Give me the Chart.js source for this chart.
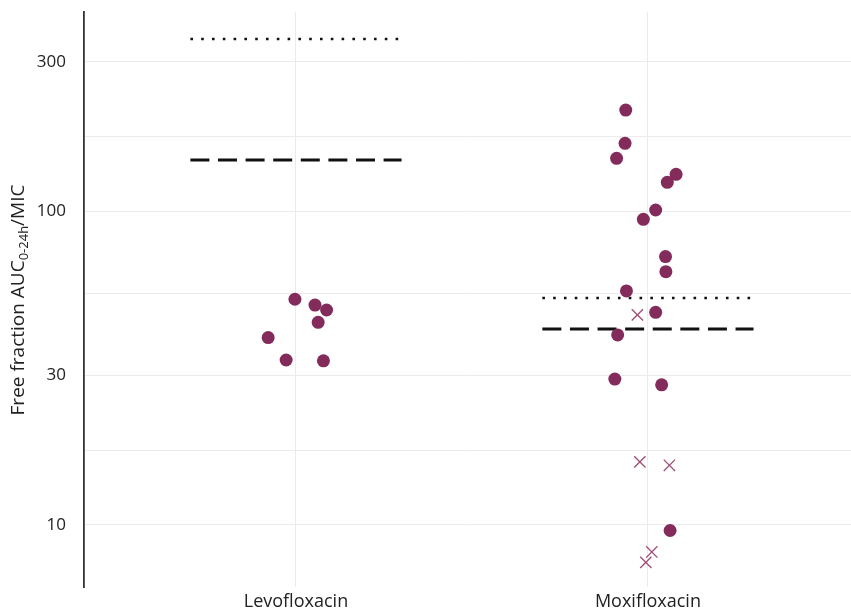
<!DOCTYPE html>
<html>
<head>
<meta charset="utf-8">
<script src="https://cdn.jsdelivr.net/npm/chart.js@4"></script>
<style>
  html, body { margin: 0; padding: 0; background: #fff; }
  #wrap { width: 851px; height: 613px; position: relative; }
</style>
</head>
<body>
<div id="wrap"><canvas id="chart"></canvas></div>
<script>
'use strict';

// categories on the x axis (positions 1 and 2)
const categories = ['Levofloxacin', 'Moxifloxacin'];

// y axis ticks: labelled majors plus unlabelled minor grid lines
const yMajorTicks = [10, 30, 100, 300];
const yGridTicks = [10, 17.3, 30, 54.8, 100, 173, 300];

// Levofloxacin points (jitter offset from category, value)
const levoOffsets = [-0.003, 0.054, 0.087, 0.063, -0.079, -0.028, 0.078];
const levoValues = [52.5, 50.3, 48.5, 44.3, 39.6, 33.6, 33.4];

// Moxifloxacin filled points
const moxiCircleOffsets = [-0.063, -0.065, -0.089, 0.080, 0.055, 0.022, -0.013, 0.050, 0.051, -0.061, 0.022, -0.086, -0.094, 0.039, 0.063];
const moxiCircleValues = [210.7, 165.0, 147.8, 131.4, 123.9, 101.1, 94.4, 71.8, 64.3, 55.8, 47.7, 40.4, 29.2, 28.0, 9.6];

// Moxifloxacin crossed points
const moxiCrossOffsets = [-0.030, -0.023, 0.061, 0.011, -0.006];
const moxiCrossValues = [46.8, 15.9, 15.5, 8.2, 7.6];

// reference lines per category
const dottedValues = [355, 53];
const dashedValues = [146, 42.2];
const lineHalfWidth = 0.3;

const FONT = '"Open Sans", Inter, sans-serif';
const POINT_COLOR = '#832c5b';
const CROSS_COLOR = '#9e4d75';

function jitterPoints(catIndex, offsets, values) {
    return values.map((v, i) => ({ x: catIndex + 1 + offsets[i], y: v }));
}

function refLine(catIndex, value) {
    return [
        { x: catIndex + 1 - lineHalfWidth, y: value },
        { x: catIndex + 1 + lineHalfWidth, y: value }
    ];
}

const yTitlePlugin = {
    id: 'yTitle',
    afterDraw(chart) {
        const ctx = chart.ctx;
        const parts = [
            { text: 'Free fraction AUC', size: 19, shift: 0 },
            { text: '0-24h', size: 13, shift: 4 },
            { text: '/MIC', size: 19, shift: 0 }
        ];
        ctx.save();
        let total = 0;
        parts.forEach(p => {
            ctx.font = p.size + 'px ' + FONT;
            p.w = ctx.measureText(p.text).width;
            total += p.w;
        });
        ctx.translate(24, 300);
        ctx.rotate(-Math.PI / 2);
        ctx.fillStyle = '#222';
        ctx.textBaseline = 'alphabetic';
        let x = -total / 2;
        parts.forEach(p => {
            ctx.font = p.size + 'px ' + FONT;
            ctx.fillText(p.text, x, p.shift);
            x += p.w;
        });
        ctx.restore();
    }
};

const lineDatasets = [];
categories.forEach((c, i) => {
    lineDatasets.push({
        type: 'line',
        data: refLine(i, dottedValues[i]),
        borderColor: '#111',
        borderWidth: 2.6,
        borderDash: [2.6, 8.2],
        borderCapStyle: 'butt',
        pointRadius: 0,
        showLine: true
    });
    lineDatasets.push({
        type: 'line',
        data: refLine(i, dashedValues[i]),
        borderColor: '#111',
        borderWidth: 3,
        borderDash: [19, 8.6],
        borderCapStyle: 'butt',
        pointRadius: 0,
        showLine: true
    });
});

new Chart(document.getElementById('chart'), {
    type: 'scatter',
    data: {
        datasets: [
            {
                data: jitterPoints(0, levoOffsets, levoValues),
                backgroundColor: POINT_COLOR,
                borderColor: POINT_COLOR,
                pointRadius: 6.5,
                borderWidth: 0
            },
            {
                data: jitterPoints(1, moxiCircleOffsets, moxiCircleValues),
                backgroundColor: POINT_COLOR,
                borderColor: POINT_COLOR,
                pointRadius: 6.5,
                borderWidth: 0
            },
            {
                data: jitterPoints(1, moxiCrossOffsets, moxiCrossValues),
                pointStyle: 'crossRot',
                borderColor: CROSS_COLOR,
                pointRadius: 8,
                borderWidth: 1.3
            },
            ...lineDatasets
        ]
    },
    options: {
        responsive: true,
        maintainAspectRatio: false,
        animation: false,
        layout: { autoPadding: false, padding: { top: 12, right: 0, bottom: 0, left: 0 } },
        plugins: {
            legend: { display: false },
            tooltip: { enabled: false }
        },
        scales: {
            x: {
                type: 'linear',
                min: 0.3977,
                max: 2.577,
                afterBuildTicks: scale => {
                    scale.ticks = categories.map((c, i) => ({ value: i + 1 }));
                },
                afterFit: scale => {
                    scale.height = 26;
                    scale.paddingLeft = 0;
                    scale.paddingRight = 0;
                },
                ticks: {
                    color: '#222',
                    font: { family: FONT, size: 18 },
                    padding: 4,
                    autoSkip: false,
                    maxRotation: 0,
                    callback: v => categories[Math.round(v) - 1] || ''
                },
                grid: { color: '#ebebeb', lineWidth: 1, drawTicks: false },
                border: { display: false }
            },
            y: {
                type: 'logarithmic',
                min: 6.34,
                max: 433,
                afterBuildTicks: scale => {
                    scale.ticks = yGridTicks.map(v => ({ value: v }));
                },
                afterFit: scale => {
                    scale.width = 84;
                    scale.paddingTop = 0;
                    scale.paddingBottom = 0;
                },
                ticks: {
                    color: '#222',
                    font: { family: FONT, size: 17 },
                    padding: 18,
                    autoSkip: false,
                    callback: v => yMajorTicks.includes(v) ? String(v) : ''
                },
                grid: { color: '#ebebeb', lineWidth: 1, drawTicks: false },
                border: { display: true, color: '#333', width: 1.8 }
            }
        }
    },
    plugins: [yTitlePlugin]
});
</script>
</body>
</html>
